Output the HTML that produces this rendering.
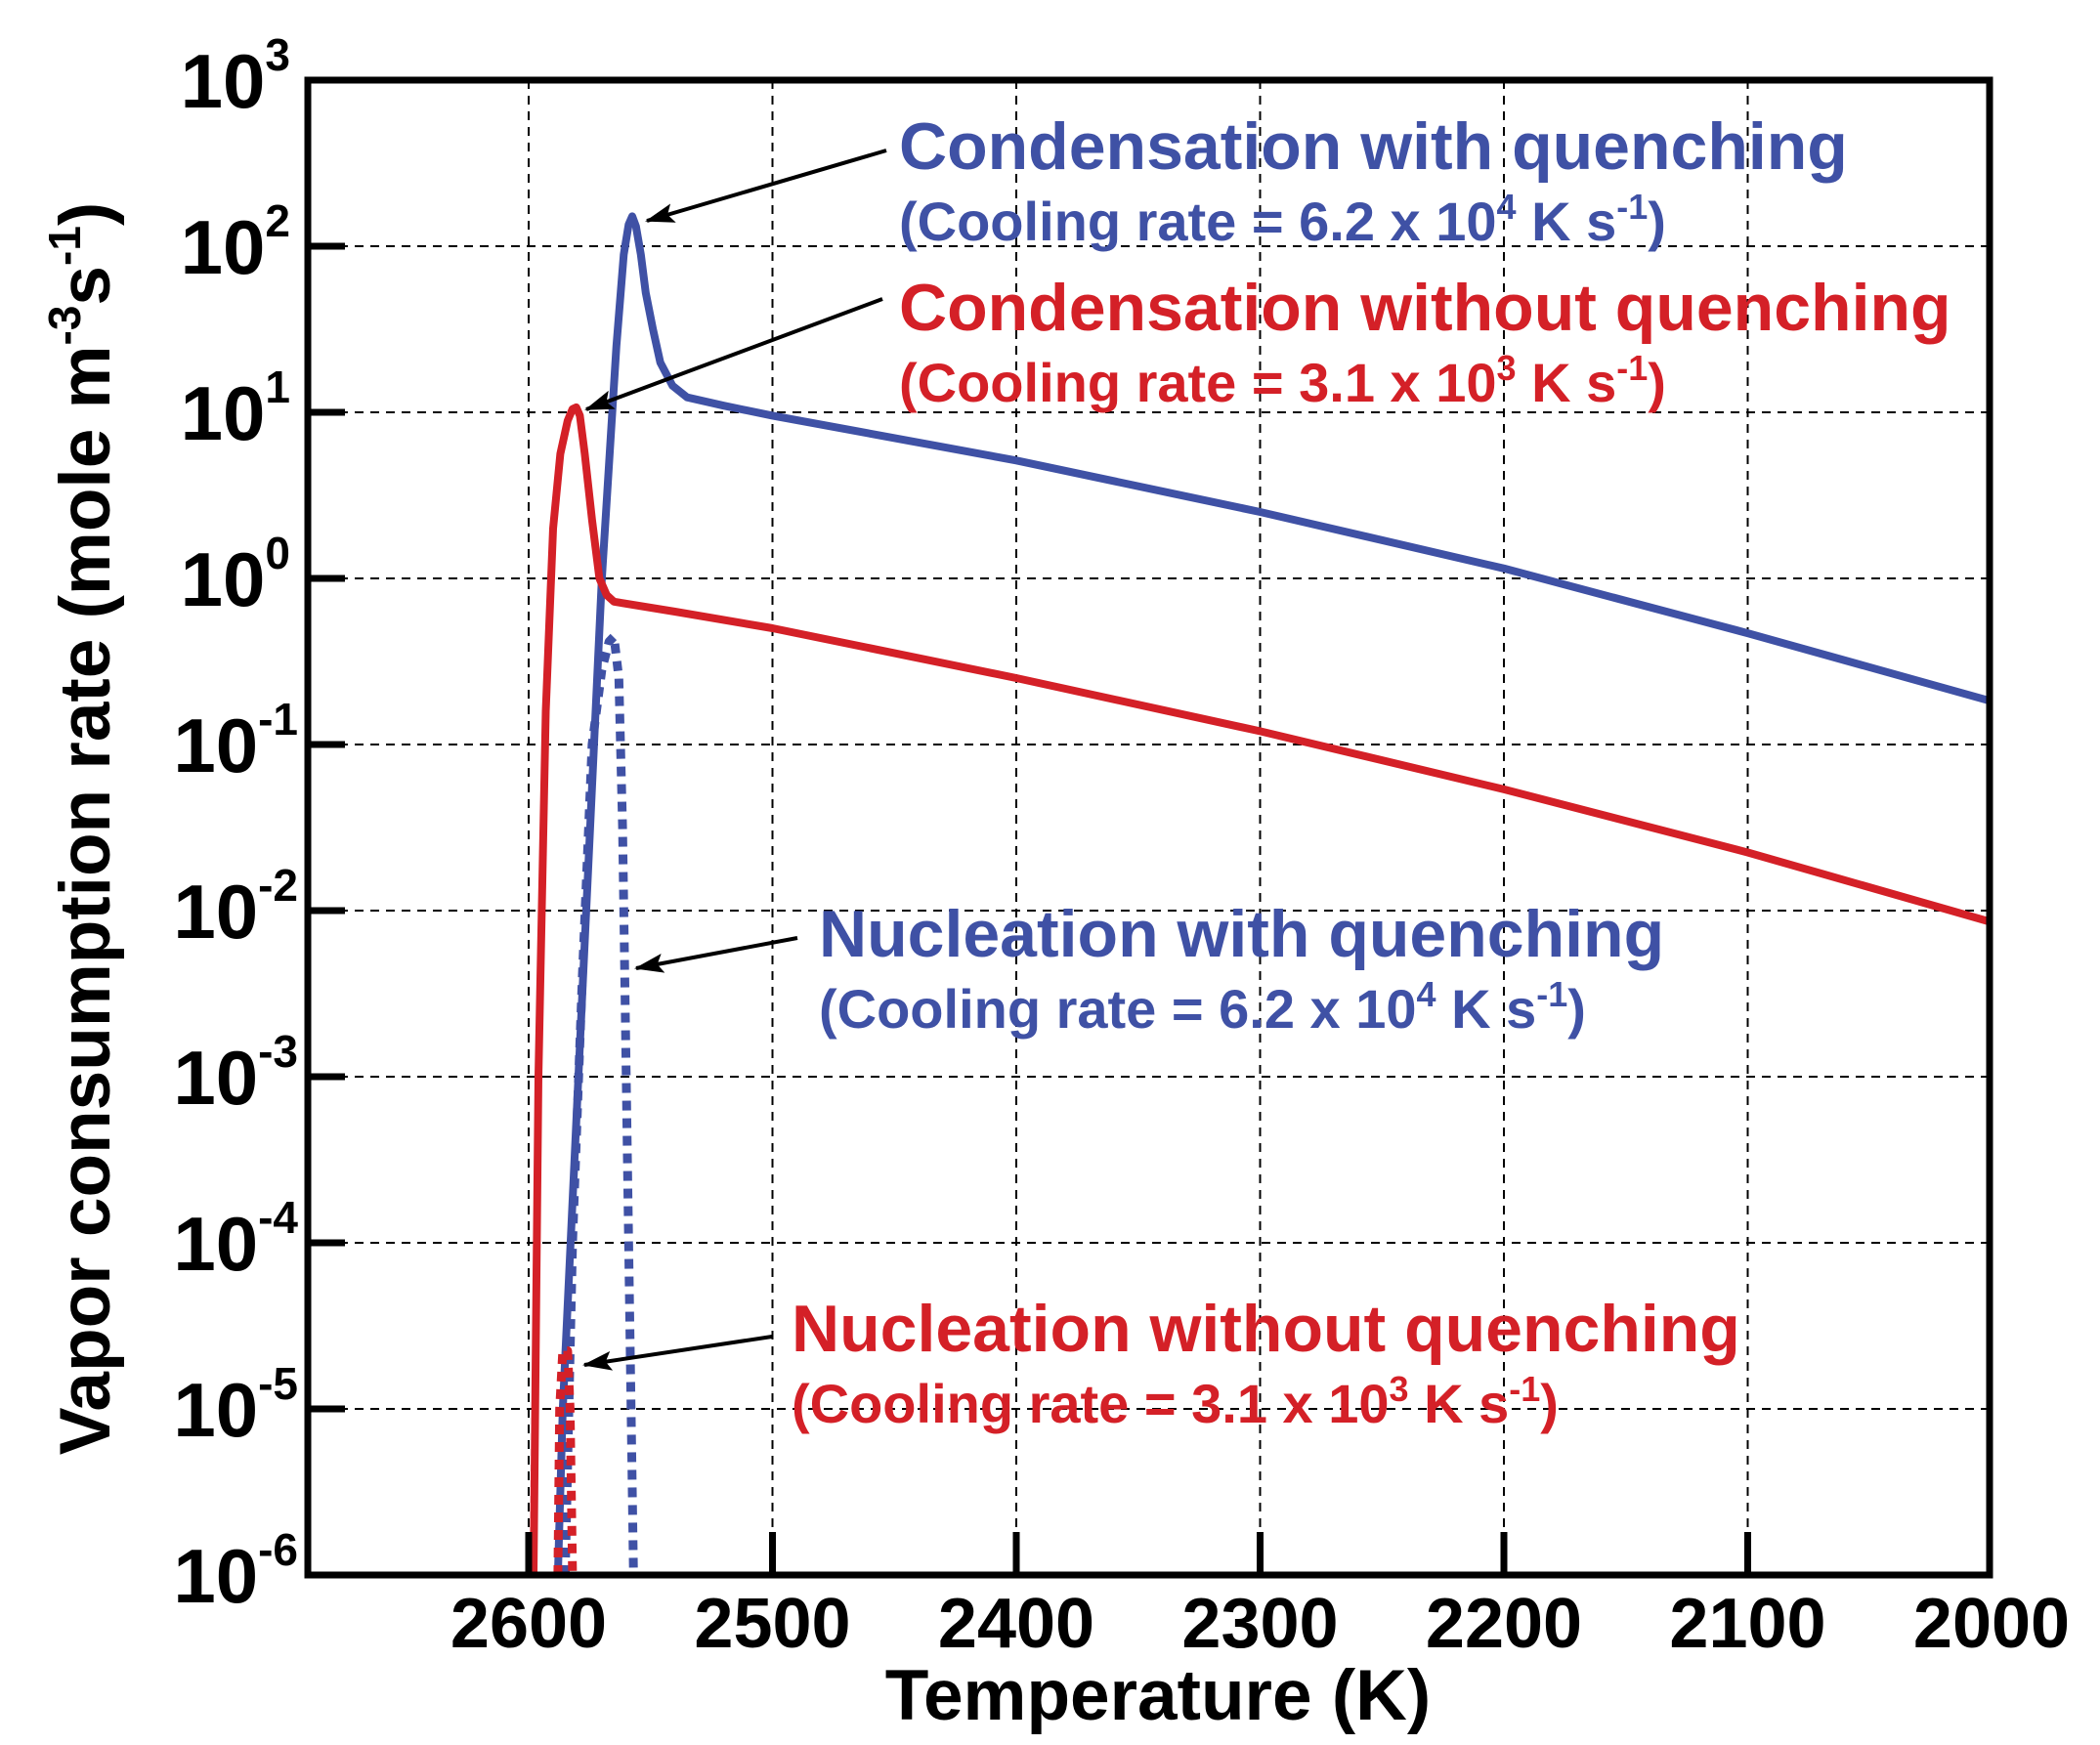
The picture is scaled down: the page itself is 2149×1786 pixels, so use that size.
<!DOCTYPE html>
<html><head><meta charset="utf-8"><style>
html,body{margin:0;padding:0;background:#fff}
svg{display:block}
text{font-family:"Liberation Sans",Arial,sans-serif;font-weight:bold}
</style></head><body>
<svg id="s" width="2149" height="1786" viewBox="0 0 2149 1786" xmlns="http://www.w3.org/2000/svg">
<defs>
<marker id="ah" markerWidth="30" markerHeight="20" refX="28" refY="10" orient="auto" markerUnits="userSpaceOnUse" viewBox="0 0 30 20">
<path d="M0,0 L30,10 L0,20 L6,10 z" fill="#000"/>
</marker>
</defs>
<g id="grid" stroke="#000" stroke-width="2" stroke-dasharray="9,7" fill="none"></g>
<g id="curves" fill="none" stroke-linejoin="round"></g>
<rect x="315" y="82" width="1721" height="1530" fill="none" stroke="#000" stroke-width="7"/>
<g id="ticks" stroke="#000" stroke-width="7"></g>
<g id="labels" fill="#000"></g>
<text x="1185" y="1760" font-size="73" text-anchor="middle">Temperature (K)</text>
<text transform="translate(112,848) rotate(-90)" font-size="73" text-anchor="middle">Vapor consumption rate (mole m<tspan font-size="46" dy="-30">-3</tspan><tspan dy="30">s</tspan><tspan font-size="46" dy="-30">-1</tspan><tspan dy="30">)</tspan></text>

<g stroke="#000" stroke-width="4" marker-end="url(#ah)">
<line x1="907" y1="154" x2="662" y2="226"/>
<line x1="903" y1="306" x2="600" y2="419"/>
<line x1="816" y1="960" x2="651" y2="991"/>
<line x1="790" y1="1368" x2="598" y2="1397"/>
</g>

<g fill="#3f51a5">
<text x="920" y="173" font-size="68">Condensation with quenching</text>
<text x="920" y="246" font-size="56">(Cooling rate = 6.2 x 10<tspan font-size="36" dy="-22">4</tspan><tspan dy="22"> K s</tspan><tspan font-size="36" dy="-22">-1</tspan><tspan dy="22">)</tspan></text>
<text x="838" y="979" font-size="68">Nucleation with quenching</text>
<text x="838" y="1052" font-size="56">(Cooling rate = 6.2 x 10<tspan font-size="36" dy="-22">4</tspan><tspan dy="22"> K s</tspan><tspan font-size="36" dy="-22">-1</tspan><tspan dy="22">)</tspan></text>
</g>
<g fill="#d42027">
<text x="920" y="338" font-size="68">Condensation without quenching</text>
<text x="920" y="411" font-size="56">(Cooling rate = 3.1 x 10<tspan font-size="36" dy="-22">3</tspan><tspan dy="22"> K s</tspan><tspan font-size="36" dy="-22">-1</tspan><tspan dy="22">)</tspan></text>
<text x="810" y="1383" font-size="68">Nucleation without quenching</text>
<text x="810" y="1456" font-size="56">(Cooling rate = 3.1 x 10<tspan font-size="36" dy="-22">3</tspan><tspan dy="22"> K s</tspan><tspan font-size="36" dy="-22">-1</tspan><tspan dy="22">)</tspan></text>
</g>
</svg>
<script>
(function(){
var NS="http://www.w3.org/2000/svg";
function X(T){return 541+(2600-T)*2.495;}
function Y(l){return 592-l*170;}
function el(n,a,p){var e=document.createElementNS(NS,n);for(var k in a)e.setAttribute(k,a[k]);p.appendChild(e);return e;}
var g=document.getElementById('grid'),tk=document.getElementById('ticks'),lb=document.getElementById('labels');
for(var T=2600;T>=2100;T-=100){var x=X(T);el('line',{x1:x,y1:82,x2:x,y2:1612},g);el('line',{x1:x,y1:1612,x2:x,y2:1568},tk);}
for(var T=2600;T>=2000;T-=100){var t=el('text',{x:X(T),y:1686,'text-anchor':'middle','font-size':72},lb);t.textContent=T;}
for(var l=2;l>=-5;l--){var y=Y(l);el('line',{x1:315,y1:y,x2:2036,y2:y},g);el('line',{x1:315,y1:y,x2:353,y2:y},tk);}
for(var l=3;l>=-6;l--){
 var y=Y(l);var t=el('text',{x:(l<0?305:297),y:y+28,'text-anchor':'end','font-size':78},lb);
 t.innerHTML='10<tspan font-size="46" dy="-38">'+l+'</tspan>';}
var c=document.getElementById('curves');
function path(pts,col,w,dash){var d='';pts.forEach(function(p,i){d+=(i?'L':'M')+X(p[0]).toFixed(1)+','+Y(p[1]).toFixed(1);});
 var a={d:d,stroke:col,'stroke-width':w};if(dash)a['stroke-dasharray']=dash;el('path',a,c);}
var B='#3f51a5',R='#d42027';
path([[2588,-6],[2586,-5],[2570,0],[2564,1.4],[2561,1.95],[2559,2.13],[2557.5,2.18],[2556,2.12],[2554,1.95],[2552,1.72],[2549,1.5],[2546,1.3],[2541,1.16],[2535,1.09],[2520,1.04],[2500,0.98],[2400,0.71],[2300,0.40],[2200,0.06],[2100,-0.33],[2000,-0.74]],B,8);
path([[2598,-6],[2596,-3],[2593,-0.8],[2590,0.3],[2587,0.75],[2584,0.95],[2582,1.02],[2580.5,1.03],[2579,0.98],[2577,0.75],[2574,0.35],[2571,0.0],[2568,-0.1],[2565,-0.14],[2540,-0.2],[2500,-0.3],[2400,-0.6],[2300,-0.92],[2200,-1.27],[2100,-1.65],[2000,-2.07]],R,8);
path([[2585,-6],[2582,-4],[2578,-2.4],[2574,-1],[2570,-0.55],[2567,-0.38],[2565,-0.35],[2563,-0.6],[2561.5,-1.5],[2560.5,-2.5],[2559,-4],[2557,-6]],B,9,'10,8');
path([[2588,-6],[2587.3,-5],[2586,-4.65],[2584,-4.65],[2583,-5],[2582,-6]],R,9,'10,8');
})();
</script>
</body></html>
